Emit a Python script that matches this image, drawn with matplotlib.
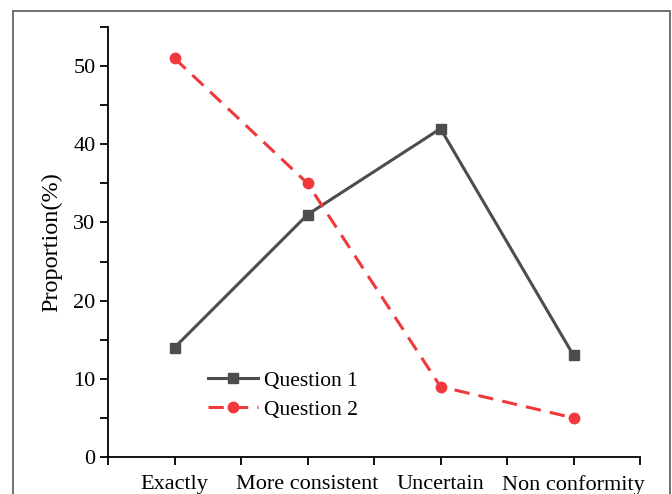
import matplotlib
matplotlib.use("Agg")
import matplotlib.pyplot as plt
from matplotlib.patches import Rectangle
from matplotlib.ticker import MultipleLocator

# values
categories = ['Exactly', 'More consistent', 'Uncertain', 'Non conformity']
question1 = [14, 31, 42, 13]
question2 = [51, 35, 9, 5]

plt.rcParams['font.family'] = ['Liberation Serif', 'DejaVu Serif']
plt.rcParams['font.size'] = 16

fig = plt.figure(figsize=(6.72, 4.94), dpi=100)
ax = fig.add_axes([108 / 672, 1 - 457 / 494, 532 / 672, 430 / 494])

x = list(range(1, len(categories) + 1))
ax.plot(x, question1, color='#4d4d4d', lw=2.2, marker='s', ms=6.5, label='Question 1')
ax.plot(x, question2, color='#f0393c', lw=2.2, ls=(0, (5, 3)), marker='o', ms=7.5,
        label='Question 2')

ax.set_xlim(0.5, 4.5)
ax.set_ylim(0, 55)
ax.set_xticks(x)
ax.set_xticklabels(categories)
ax.set_xticks([0.5, 1.5, 2.5, 3.5, 4.5], minor=True)
ax.yaxis.set_major_locator(MultipleLocator(10))
ax.yaxis.set_minor_locator(MultipleLocator(5))
ax.tick_params(which='both', direction='out', width=1.3, length=6, color='black')
ax.tick_params(axis='x', pad=7)
ax.tick_params(axis='y', pad=3)
ax.set_ylabel('Proportion(%)', fontsize=17.5, labelpad=8)

for side in ['top', 'right']:
    ax.spines[side].set_visible(False)
for side in ['left', 'bottom']:
    ax.spines[side].set_linewidth(1.3)

ax.legend(loc='lower left', bbox_to_anchor=(0.172, 0.067), frameon=False, fontsize=15.5,
          handlelength=2.3, handletextpad=0.3, labelspacing=0.4, borderaxespad=0)

# thin gray frame around the whole picture
fig.patches.append(Rectangle((13 / 672, -0.05), 657 / 672, 1.05 - 11 / 494,
                             transform=fig.transFigure, fill=False,
                             edgecolor='#666666', lw=1.3))

fig.savefig('out.png', dpi=100)
